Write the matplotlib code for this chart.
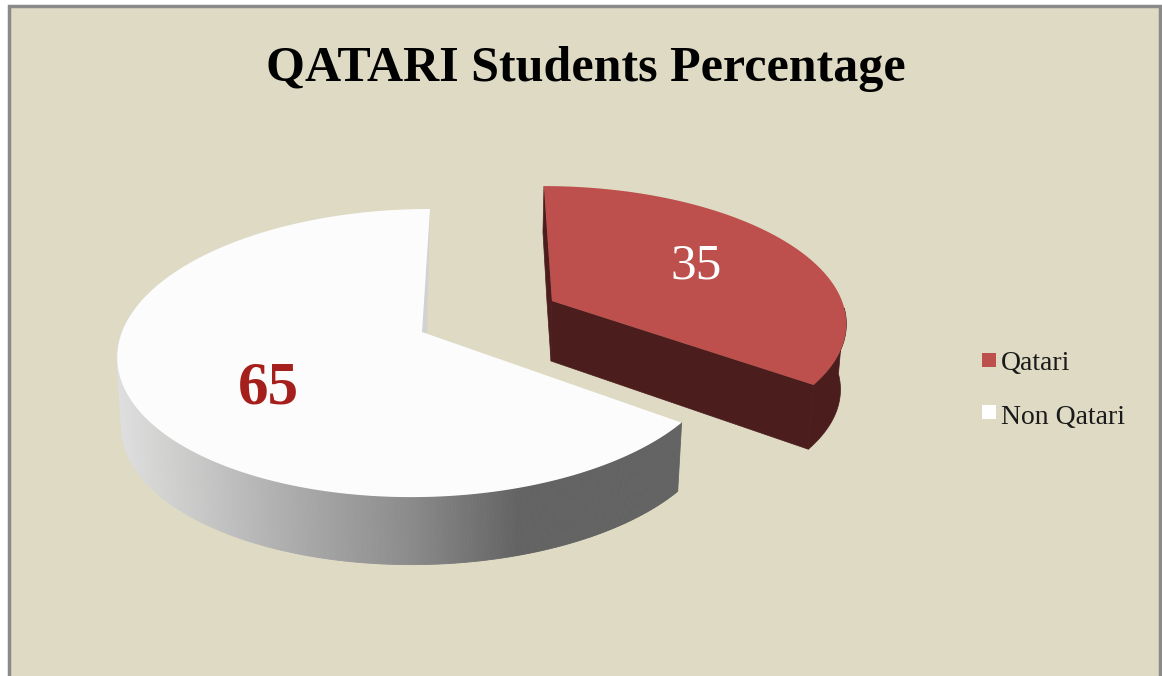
import numpy as np
import matplotlib
matplotlib.use('Agg')
import matplotlib.pyplot as plt
from matplotlib.patches import Polygon, Rectangle

plt.rcParams['font.family'] = ['Liberation Serif', 'DejaVu Serif']

title = 'QATARI Students Percentage'
labels = ['Qatari', 'Non Qatari']
values = [35, 65]

bg = '#dedac4'
red = '#bd4f4c'
red_side = '#4b1d1c'
white = '#fcfcfc'

# pie geometry in pixels: apex, radii, perspective, shear, depth
apex_red = (552, 301)
apex_white = (422, 332)
geo_red = dict(A=290, B=131, K=0.14, shear=0.07)
geo_white = dict(A=300, B=141, K=0.146, shear=-0.065)
depth_red = 66
depth_red_apex = 60
depth_white = 70
start_angle = 90.0


def arc(apex, geo, t0, t1, scale=1.0, dy=0.0, n=200):
    t = np.radians(np.linspace(t0, t1, n))
    s = 1 / (1 + geo['K'] * np.sin(t))
    off_y = -geo['B'] * scale * np.sin(t) * s
    x = apex[0] + geo['A'] * scale * np.cos(t) * s + geo['shear'] * off_y
    y = apex[1] + dy + off_y
    return x, y


def grey_at(x):
    # side shading of the white slice runs light to dark, left to right
    return np.interp(x, [120, 202, 295, 406, 517, 680], [0.87, 0.78, 0.67, 0.55, 0.39, 0.39])


fig = plt.figure(figsize=(11.62, 6.76), dpi=100, facecolor='white')
ax = fig.add_axes([0, 0, 1, 1])
ax.set_xlim(0, 1162)
ax.set_ylim(676, 0)
ax.axis('off')

ax.add_patch(Rectangle((9, 6), 1151, 680, fc=bg, ec='#8a8a8a', lw=2.5))

red_t1 = start_angle
red_t0 = start_angle - 360 * values[0] / sum(values)
white_t0 = start_angle
white_t1 = start_angle + 360 * values[1] / sum(values)

# white slice side, drawn as thin strips for the gradient
xt, yt = arc(apex_white, geo_white, 170, white_t1, n=400)
xb, yb = arc(apex_white, geo_white, 170, white_t1, scale=0.985, dy=depth_white, n=400)
for i in range(len(xt) - 1):
    quad = [(xt[i], yt[i]), (xt[i + 1], yt[i + 1]), (xb[i + 1], yb[i + 1]), (xb[i], yb[i])]
    g = grey_at(xt[i])
    ax.add_patch(Polygon(quad, fc=(g, g, g), ec=(g, g, g), lw=0.6))

# white slice top and inner wall
x, y = arc(apex_white, geo_white, white_t0, white_t1)
ax.add_patch(Polygon([(x[0], y[0]), (apex_white[0] + 5, apex_white[1] + 2), apex_white],
                     fc='#d2d2d2', ec='none'))
ax.add_patch(Polygon(np.vstack([np.column_stack([x, y]), apex_white]), fc=white, ec='none'))

# red slice side
xt, yt = arc(apex_red, geo_red, red_t0, red_t1)
xb, yb = arc(apex_red, geo_red, red_t0, red_t1, scale=0.98, dy=depth_red)
mask = np.linspace(red_t0, red_t1, len(xt)) <= -3
side = list(zip(xt[mask], yt[mask])) + list(zip(xb[mask][::-1], yb[mask][::-1]))
ax.add_patch(Polygon(side, fc=red_side, ec=red_side, lw=0.5))
ax.add_patch(Polygon([(xt[0], yt[0]), (xb[0], yb[0]), (apex_red[0] - 1, apex_red[1] + depth_red_apex), apex_red],
                     fc=red_side, ec=red_side, lw=0.5))
ax.add_patch(Polygon([(xt[-1], yt[-1]), (xt[-1] - 1, yt[-1] + 46), (apex_red[0] - 5, apex_red[1] + 1),
                      (apex_red[0] - 1, apex_red[1] + depth_red_apex), apex_red],
                     fc=red_side, ec=red_side, lw=0.5))
ax.add_patch(Polygon(np.vstack([np.column_stack([xt, yt]), apex_red]), fc=red, ec='none'))

ax.text(586, 69, title, fontsize=36, fontweight='bold', color='black', ha='center', va='center')
ax.text(696, 266, str(values[0]), fontsize=37, color='white', ha='center', va='center')
ax.text(268, 389, str(values[1]), fontsize=44, fontweight='bold', color='#a5201c', ha='center', va='center')

# legend
ax.add_patch(Rectangle((982, 353), 14, 14, fc=red, ec='none'))
ax.add_patch(Rectangle((982, 405), 14, 14, fc='white', ec='none'))
ax.text(1001, 364, labels[0], fontsize=20, color='#1a1a1a', ha='left', va='center')
ax.text(1001, 417, labels[1], fontsize=20, color='#1a1a1a', ha='left', va='center')

fig.savefig('out.png', dpi=100)
